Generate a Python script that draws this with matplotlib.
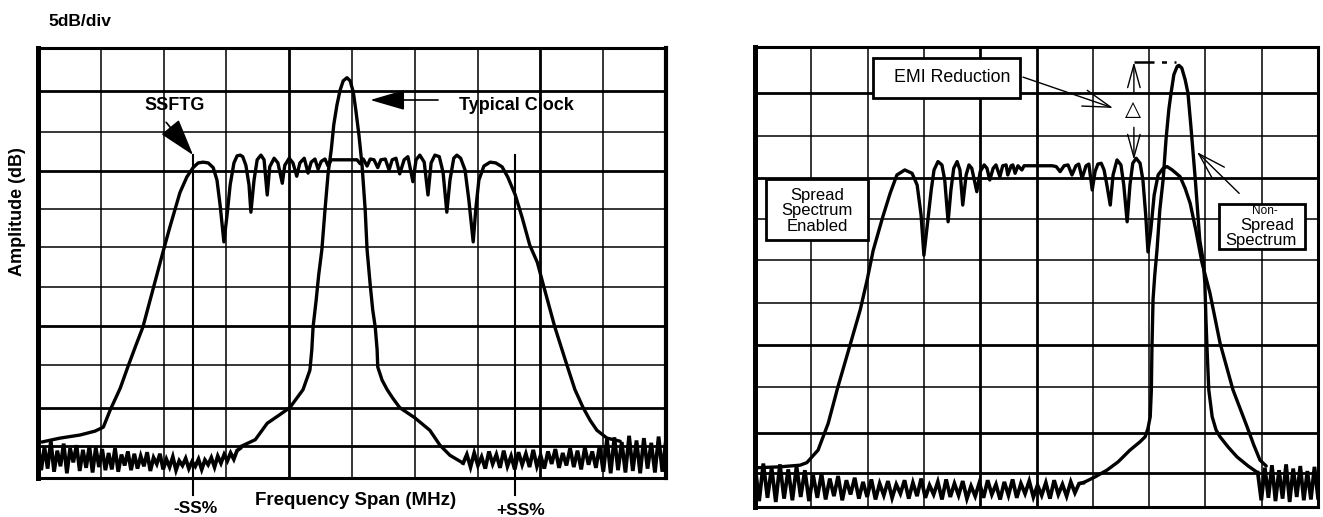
import numpy as np
import matplotlib
matplotlib.use("Agg")
import matplotlib.pyplot as plt
from matplotlib.patches import Rectangle

plt.rcParams['font.family'] = ['Liberation Sans', 'DejaVu Sans']

# x in screen divisions (0..10), y in dB below reference level (5 dB/div)
grid_x = [1, 2, 3, 4, 5, 6, 7, 8, 9]
grid_db = [-5.5, -10.7, -15.7, -20.6, -25.5, -30.6, -35.6, -40.6, -46.1, -50.9]

# ---- left panel: SSFTG vs typical clock ----
ssftg = [(0.06, -50.4), (0.35, -49.9), (0.67, -49.5), (0.91, -49.0), (1.04, -48.5),
         (1.15, -46.3), (1.31, -43.5), (1.43, -40.8), (1.56, -38.0), (1.67, -35.7),
         (1.83, -30.9), (1.99, -26.1), (2.10, -22.9), (2.26, -18.5), (2.37, -16.5),
         (2.47, -15.3), (2.55, -14.7), (2.63, -14.6), (2.71, -14.7), (2.79, -15.3),
         (2.85, -16.9), (2.90, -20.1), (2.96, -24.8), (3.01, -21.4), (3.06, -17.5),
         (3.12, -14.7), (3.17, -13.8), (3.22, -13.7), (3.26, -13.9), (3.31, -15.0),
         (3.36, -17.5), (3.39, -21.0), (3.44, -16.9), (3.49, -14.3), (3.55, -13.7),
         (3.60, -14.3), (3.65, -18.8), (3.69, -15.2), (3.76, -14.1), (3.82, -14.7),
         (3.89, -17.3), (3.93, -15.0), (4.00, -14.1), (4.06, -14.7), (4.12, -16.4),
         (4.17, -14.7), (4.24, -14.1), (4.30, -16.0), (4.35, -14.6), (4.41, -14.2),
         (4.46, -15.5), (4.51, -14.5), (4.57, -14.2), (4.62, -15.1), (4.67, -14.3),
         (5.08, -14.3), (5.13, -14.8), (5.18, -14.2), (5.24, -15.1), (5.29, -14.2),
         (5.35, -14.3), (5.41, -15.3), (5.46, -14.3), (5.53, -14.2), (5.59, -15.6),
         (5.64, -14.3), (5.70, -14.1), (5.76, -16.1), (5.83, -14.3), (5.89, -13.9),
         (5.97, -17.1), (6.02, -14.3), (6.08, -13.7), (6.15, -14.6), (6.21, -18.8),
         (6.26, -14.7), (6.32, -13.7), (6.39, -13.9), (6.45, -15.9), (6.51, -21.0),
         (6.56, -16.9), (6.62, -14.1), (6.67, -13.7), (6.73, -14.1), (6.80, -15.6),
         (6.86, -19.4), (6.93, -24.8), (6.97, -20.7), (7.02, -16.9), (7.10, -15.1),
         (7.20, -14.6), (7.29, -14.7), (7.39, -15.2), (7.48, -16.5), (7.60, -18.8),
         (7.71, -21.7), (7.83, -25.2), (7.95, -27.4), (8.04, -30.1), (8.23, -35.7),
         (8.42, -40.5), (8.55, -43.7), (8.68, -46.0), (8.79, -47.6), (8.90, -48.9),
         (9.06, -49.9), (9.27, -50.3)]

clock_left = [(3.22, -51.0), (3.46, -50.1), (3.65, -48.0), (3.85, -46.9), (4.01, -46.0),
              (4.22, -43.7), (4.33, -41.2), (4.36, -38.6), (4.38, -35.7), (4.43, -32.2),
              (4.47, -29.0), (4.52, -25.8), (4.57, -20.7), (4.62, -16.0), (4.67, -13.0),
              (4.71, -9.8), (4.76, -7.3), (4.81, -5.4), (4.86, -4.2), (4.92, -3.8),
              (4.97, -4.2), (5.02, -5.6), (5.06, -7.9), (5.11, -11.1), (5.16, -15.0),
              (5.21, -20.7), (5.24, -25.8), (5.29, -30.3), (5.33, -33.5), (5.37, -35.7),
              (5.40, -38.6), (5.41, -40.8), (5.48, -42.5), (5.56, -43.7), (5.65, -44.8),
              (5.76, -46.0), (6.00, -47.3), (6.24, -48.9), (6.40, -50.8), (6.56, -52.1),
              (6.77, -53.1)]

noise_left_a = [-50.5, -54.0, -51.0, -53.8, -50.3, -54.2, -51.5, -53.5, -50.6, -54.4,
                -51.2, -53.0, -50.8, -54.1, -51.4, -53.7, -50.9, -54.3, -51.1, -53.6,
                -51.3, -54.0, -51.8, -53.9, -51.2, -54.2, -52.0, -53.4, -51.6, -54.0,
                -51.9, -53.8, -52.2, -53.5, -51.7, -54.1, -52.4, -53.2, -51.9, -53.9,
                -52.6, -53.6, -52.3, -54.0, -52.8, -53.4, -52.5, -53.8, -52.9, -53.5,
                -52.6, -53.9, -52.7, -53.3, -52.4, -53.6, -52.2, -53.1, -52.0, -52.8,
                -51.8, -52.6, -51.5, -51.2]
noise_left_b = [-53.1, -52.0, -53.6, -51.8, -53.4, -52.3, -53.8, -51.6, -53.2, -52.0,
                -53.7, -51.5, -53.5, -52.2, -53.9, -51.7, -53.3, -51.9, -53.6, -51.4,
                -53.5, -52.1, -53.8, -51.6, -53.2, -51.3, -53.7, -51.8, -53.4, -51.2,
                -53.6, -51.5, -53.9, -51.1, -53.3, -51.6, -53.7, -50.9,
                -54.2, -50.0, -54.4, -49.8, -54.0, -50.4, -54.3, -49.6, -54.1, -50.2,
                -54.4, -49.9, -53.8, -50.5, -54.3, -49.7, -54.2, -50.1]
noise_left_span = [(0.0, 3.22), (6.77, 10.0)]
ss_marks = [2.47, 7.60]

# ---- right panel: spread vs non-spread ----
spread = [(0.05, -50.3), (0.44, -50.2), (0.80, -50.0), (0.92, -49.7), (1.12, -48.2),
          (1.30, -45.0), (1.47, -40.7), (1.69, -35.6), (1.87, -31.4), (1.99, -27.9),
          (2.10, -24.3), (2.27, -20.3), (2.40, -17.5), (2.52, -15.3), (2.66, -14.7),
          (2.79, -15.1), (2.88, -16.5), (2.95, -20.1), (3.00, -24.9), (3.06, -21.3),
          (3.13, -17.1), (3.18, -14.7), (3.25, -13.7), (3.32, -14.1), (3.37, -15.9),
          (3.43, -20.9), (3.48, -17.1), (3.53, -14.5), (3.59, -13.7), (3.64, -14.7),
          (3.69, -18.9), (3.75, -15.3), (3.80, -14.1), (3.85, -14.5), (3.94, -17.3),
          (4.00, -14.9), (4.07, -14.1), (4.12, -14.5), (4.17, -15.9), (4.23, -14.5),
          (4.28, -14.1), (4.35, -15.5), (4.40, -14.2), (4.46, -14.1), (4.49, -15.3),
          (4.55, -14.2), (4.58, -14.1), (4.62, -15.1), (4.67, -14.2), (4.74, -14.7),
          (4.78, -14.2), (5.28, -14.2), (5.35, -14.3), (5.42, -14.9), (5.49, -14.2),
          (5.56, -14.1), (5.63, -15.3), (5.70, -14.2), (5.75, -14.0), (5.81, -15.7),
          (5.88, -14.2), (5.93, -14.0), (5.99, -17.1), (6.04, -14.9), (6.09, -14.0),
          (6.15, -13.9), (6.20, -14.7), (6.25, -16.5), (6.31, -18.9), (6.36, -15.3),
          (6.43, -13.5), (6.50, -14.1), (6.55, -16.5), (6.61, -20.9), (6.66, -16.5),
          (6.71, -13.9), (6.77, -13.3), (6.84, -13.9), (6.89, -15.9), (6.94, -20.1),
          (6.98, -24.5), (7.03, -21.9), (7.09, -17.7), (7.16, -15.3), (7.25, -14.5),
          (7.32, -14.3), (7.41, -14.7), (7.55, -15.5), (7.64, -16.9), (7.73, -18.7),
          (7.83, -21.9), (7.94, -25.8), (8.08, -29.4), (8.26, -35.4), (8.49, -41.0),
          (8.74, -45.4), (8.86, -47.6), (8.97, -49.4), (9.08, -50.1)]

non_spread = [(5.83, -52.1), (6.04, -51.4), (6.25, -50.6), (6.45, -49.6), (6.66, -48.2),
              (6.84, -47.2), (6.93, -46.6), (6.98, -45.6), (7.02, -44.2), (7.04, -41.0),
              (7.05, -36.2), (7.07, -30.2), (7.10, -27.3), (7.14, -24.3), (7.19, -19.5),
              (7.25, -15.8), (7.30, -11.1), (7.35, -7.5), (7.39, -5.5), (7.44, -3.3),
              (7.50, -2.3), (7.53, -2.2), (7.58, -2.5), (7.64, -3.9), (7.69, -5.5),
              (7.74, -9.3), (7.82, -15.8), (7.90, -23.1), (7.96, -25.5), (7.99, -28.2),
              (8.01, -32.6), (8.03, -36.2), (8.06, -41.0), (8.12, -44.2), (8.19, -45.8),
              (8.26, -46.6), (8.40, -47.8), (8.56, -49.0), (8.76, -50.1), (8.93, -50.9)]

noise_right_a = [-50.0, -54.3, -49.8, -53.9, -50.3, -54.4, -49.9, -54.0, -50.5, -54.2,
                 -50.1, -53.8, -50.6, -54.3,
                 -51.2, -53.9, -51.0, -54.1, -51.6, -53.7, -51.3, -54.2, -51.8, -53.5,
                 -51.5, -54.0, -52.0, -53.8, -51.7, -54.1, -52.2, -53.6, -51.9, -53.9,
                 -52.3, -53.4, -51.8, -54.0, -52.1, -53.7, -51.6, -53.9, -52.4, -53.5,
                 -52.0, -54.1, -51.7, -53.8, -52.2, -53.6, -51.9, -54.0, -52.5, -53.7,
                 -52.1, -53.9, -51.8, -53.5, -52.3, -54.1, -52.0, -53.6, -51.7, -53.9,
                 -52.2, -53.4, -51.9, -53.8, -52.4, -53.6, -52.1, -54.0, -51.8, -53.5,
                 -52.3, -53.7, -52.0, -53.3, -52.2, -52.1]
noise_right_b = [-50.9, -54.2, -50.3, -53.9, -50.0, -54.3, -50.6, -54.0, -49.9, -54.4,
                 -50.4, -53.8, -50.1, -54.2, -50.7, -54.1, -50.2, -53.9]
noise_right_span = [(0.0, 5.83), (8.93, 10.0)]

W, H = 1323, 517
fig = plt.figure(figsize=(W / 100, H / 100), dpi=100)
ax1 = fig.add_axes([38 / W, 1 - 478 / H, 628 / W, 430 / H])
ax2 = fig.add_axes([755 / W, 1 - 507 / H, 563 / W, 460 / H])


def setup(ax, thick_x, thick_y, spine_w):
    ax.set_xlim(0, 10)
    ax.set_ylim(-55, 0)
    ax.set_xticks([])
    ax.set_yticks([])
    for gx in grid_x:
        ax.axvline(gx, color='black', lw=2.0 if gx in thick_x else 1.1, zorder=1)
    for i, gy in enumerate(grid_db):
        ax.axhline(gy, color='black', lw=2.0 if i in thick_y else 1.1, zorder=1)
    for side, w in zip(['left', 'top', 'right', 'bottom'], spine_w):
        ax.spines[side].set_linewidth(w)
        ax.spines[side].set_zorder(6)


def trace(ax, pts, lw=2.4):
    xs, ys = zip(*pts)
    ax.plot(xs, ys, color='black', lw=lw, solid_joinstyle='round',
            solid_capstyle='round', zorder=3)


def noise(ax, vals, span):
    xs = np.linspace(span[0], span[1], len(vals))
    ax.plot(xs, vals, color='black', lw=2.7, solid_joinstyle='miter', zorder=3)


setup(ax1, [4, 8], [0, 2, 6, 8, 9], [3.6, 2.2, 3.0, 2.2])
setup(ax2, [4, 5], [0, 2, 6, 8, 9], [3.6, 2.2, 2.2, 2.2])

# left panel traces
trace(ax1, ssftg)
trace(ax1, clock_left)
noise(ax1, noise_left_a, noise_left_span[0])
noise(ax1, noise_left_b, noise_left_span[1])

for mx in ss_marks:
    ax1.plot([mx, mx], [-13.7, -57.2], color='black', lw=1.5, clip_on=False, zorder=4)

bold = dict(fontweight='bold', color='black')
ax1.text(2.50, -58.9, '-SS%', ha='center', va='center', fontsize=12.5, clip_on=False, **bold)
ax1.text(7.69, -59.2, '+SS%', ha='center', va='center', fontsize=12.5, clip_on=False, **bold)
ax1.text(5.05, -57.9, 'Frequency Span (MHz)', ha='center', va='center', fontsize=13.5,
         clip_on=False, **bold)
ax1.text(2.18, -7.4, 'SSFTG', ha='center', va='center', fontsize=13, **bold)
ax1.text(7.61, -7.3, 'Typical Clock', ha='center', va='center', fontsize=13, **bold)

ax1.annotate('', xy=(2.47, -13.7), xytext=(2.04, -9.5),
             arrowprops=dict(arrowstyle='-|>,head_length=1.3,head_width=0.4',
                             mutation_scale=18, color='black', lw=1.2,
                             shrinkA=0, shrinkB=0), zorder=5)
ax1.annotate('', xy=(5.29, -6.65), xytext=(6.37, -6.65),
             arrowprops=dict(arrowstyle='-|>,head_length=1.2,head_width=0.35',
                             mutation_scale=18, color='black', lw=1.2,
                             shrinkA=0, shrinkB=0), zorder=5)

fig.text(48 / W, 1 - 22 / H, '5dB/div', ha='left', va='center', fontsize=12.5, **bold)
fig.text(18 / W, 1 - 212 / H, 'Amplitude (dB)', ha='center', va='center', rotation=90,
         fontsize=13, **bold)

# right panel traces
trace(ax2, spread)
trace(ax2, non_spread)
noise(ax2, noise_right_a, noise_right_span[0])
noise(ax2, noise_right_b, noise_right_span[1])

open_head = dict(color='black', lw=1.0, shrinkA=0, shrinkB=0)
ax2.add_patch(Rectangle((2.10, -6.10), 2.61, 4.78, fill=True, facecolor='white',
                        edgecolor='black', lw=2.0, zorder=4))
ax2.text(3.50, -3.6, 'EMI Reduction', ha='center', va='center', fontsize=12.8, zorder=5)
ax2.annotate('', xy=(6.36, -7.29), xytext=(4.76, -3.6),
             arrowprops=dict(arrowstyle='->,head_length=1.0,head_width=0.3',
                             mutation_scale=20, **open_head), zorder=5)
ax2.text(6.71, -7.4, '\u25b3', ha='center', va='center', fontsize=15,
         family='DejaVu Sans', zorder=5)
ax2.annotate('', xy=(6.73, -1.8), xytext=(6.73, -5.5),
             arrowprops=dict(arrowstyle='->,head_length=1.1,head_width=0.3',
                             mutation_scale=15, **open_head), zorder=5)
ax2.annotate('', xy=(6.73, -13.5), xytext=(6.73, -9.6),
             arrowprops=dict(arrowstyle='->,head_length=1.1,head_width=0.3',
                             mutation_scale=15, **open_head), zorder=5)
ax2.plot([6.73, 7.48], [-1.8, -1.8], color='black', lw=1.8,
         linestyle=(0, (8, 3, 2, 3)), zorder=4)

ax2.add_patch(Rectangle((0.20, -23.1), 1.81, 7.3, fill=True, facecolor='white',
                        edgecolor='black', lw=2.0, zorder=4))
ax2.text(1.10, -19.6, 'Spread\nSpectrum\nEnabled', ha='center', va='center',
         fontsize=12, linespacing=1.05, zorder=5)

ax2.add_patch(Rectangle((8.24, -24.2), 1.53, 5.4, fill=True, facecolor='white',
                        edgecolor='black', lw=2.0, zorder=4))
ax2.text(9.06, -19.6, 'Non-', ha='center', va='center', fontsize=8.5, zorder=5)
ax2.text(9.09, -21.3, 'Spread', ha='center', va='center', fontsize=12, zorder=5)
ax2.text(8.99, -23.1, 'Spectrum', ha='center', va='center', fontsize=12, zorder=5)
ax2.annotate('', xy=(7.85, -12.55), xytext=(8.60, -17.5),
             arrowprops=dict(arrowstyle='->,head_length=1.0,head_width=0.3',
                             mutation_scale=20, **open_head), zorder=5)

fig.savefig('out.png', dpi=100)
